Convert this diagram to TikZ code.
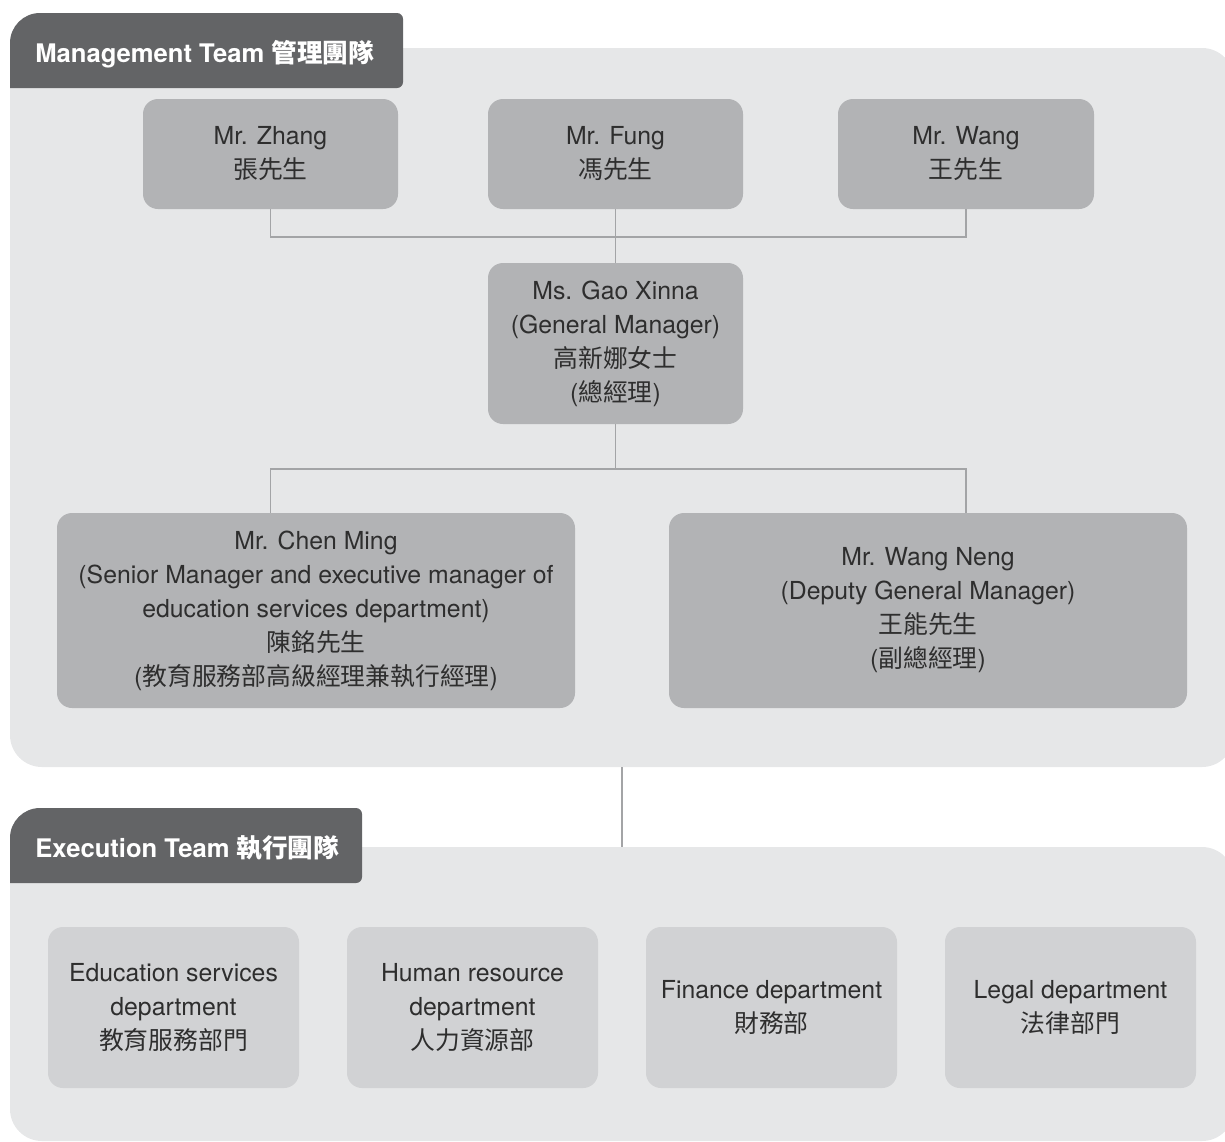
\documentclass[tikz,border=0pt]{standalone}
\usepackage{fontspec}
\setmainfont{TeX Gyre Heros}
\newfontfamily\cjk{Noto Sans CJK TC}
\definecolor{tabgray}{HTML}{636466}
\definecolor{panelgray}{HTML}{E6E7E8}
\definecolor{mboxgray}{HTML}{B2B3B5}
\definecolor{eboxgray}{HTML}{D1D2D4}
\definecolor{linegray}{HTML}{A3A4A6}
\definecolor{txtgray}{HTML}{2E2E2E}
\tikzset{
  mbox/.style={fill=mboxgray, rounded corners=7.5pt, inner sep=0pt, align=center,
    text=txtgray, font=\fontsize{12.4pt}{17pt}\selectfont},
  ebox/.style={fill=eboxgray, rounded corners=7.5pt, inner sep=0pt, align=center,
    text=txtgray, font=\fontsize{12.4pt}{17pt}\selectfont,
    minimum width=125.5pt, minimum height=80.5pt},
  tabtext/.style={anchor=base west, inner sep=0pt, text=white,
    font=\fontsize{12.8pt}{15pt}\selectfont\bfseries},
  conn/.style={draw=linegray, line width=0.8pt}
}
\begin{document}
\begin{tikzpicture}[x=0.5pt,y=-0.5pt]
\useasboundingbox (0,0) rectangle (1225,1141);
% panels
\fill[panelgray, rounded corners=16pt] (10,48) rectangle (1234,767);
\fill[panelgray, rounded corners=16pt] (10,847) rectangle (1234,1141);
% tabs
\fill[tabgray] (10,88) -- (10,43) arc[start angle=180,end angle=90,radius=15pt]
  -- (397,13) arc[start angle=90,end angle=0,radius=3pt]
  -- (403,82) arc[start angle=0,end angle=-90,radius=3pt] -- cycle;
\node[tabtext] (mtab) at (35,62) {Management Team {\cjk 管理團隊}};
\fill[tabgray] (10,883) -- (10,838) arc[start angle=180,end angle=90,radius=15pt]
  -- (356,808) arc[start angle=90,end angle=0,radius=3pt]
  -- (362,877) arc[start angle=0,end angle=-90,radius=3pt] -- cycle;
\node[tabtext] (etab) at (35,857) {Execution Team {\cjk 執行團隊}};
% management boxes
\node[mbox, minimum width=127.5pt, minimum height=55pt] (zhang) at (270.5,154) {Mr. Zhang\\{\cjk 張先生}};
\node[mbox, minimum width=127.5pt, minimum height=55pt] (fung) at (615.5,154) {Mr. Fung\\{\cjk 馮先生}};
\node[mbox, minimum width=128pt, minimum height=55pt] (wang) at (966,154) {Mr. Wang\\{\cjk 王先生}};
\node[mbox, minimum width=127.5pt, minimum height=80.5pt] (gao) at (615.5,343.5)
  {Ms. Gao Xinna\\(General Manager)\\{\cjk 高新娜女士}\\({\cjk 總經理})};
\node[mbox, minimum width=259pt, minimum height=97.5pt] (chen) at (316,610.5)
  {Mr. Chen Ming\\(Senior Manager and executive manager of\\education services department)\\{\cjk 陳銘先生}\\({\cjk 教育服務部高級經理兼執行經理})};
\node[mbox, minimum width=259pt, minimum height=97.5pt] (wangneng) at (928,610.5)
  {Mr. Wang Neng\\(Deputy General Manager)\\{\cjk 王能先生}\\({\cjk 副總經理})};
% execution boxes
\node[ebox] (edu) at (173.5,1007.5) {Education services\\department\\{\cjk 教育服務部門}};
\node[ebox] (hr) at (472.5,1007.5) {Human resource\\department\\{\cjk 人力資源部}};
\node[ebox] (fin) at (771.5,1007.5) {Finance department\\{\cjk 財務部}};
\node[ebox] (legal) at (1070.5,1007.5) {Legal department\\{\cjk 法律部門}};
% connectors
\coordinate (j1) at (615.5,237);
\coordinate (j2) at (615.5,469);
\draw[conn] (zhang.south) |- (j1) -| (wang.south);
\draw[conn] (fung.south) -- (gao.north);
\draw[conn] (gao.south) -- (j2);
\draw[conn] (chen.north -| zhang.south) |- (j2) -| (wangneng.north -| wang.south);
\coordinate (mbot) at (622,767);
\coordinate (etop) at (622,847);
\draw[conn] (mbot) -- (etop);
\end{tikzpicture}
\end{document}
